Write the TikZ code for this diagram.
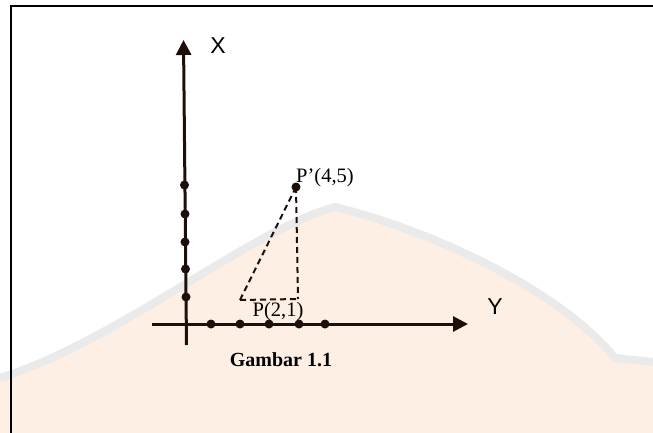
\documentclass[tikz,border=0pt]{standalone}
\usepackage{fontspec}
\setmainfont{Liberation Serif}
\newfontfamily\arialf{Liberation Sans}
\usetikzlibrary{arrows.meta}
\definecolor{peach}{RGB}{253,239,228}
\definecolor{wmgray}{RGB}{234,234,234}
\definecolor{ink}{RGB}{30,15,10}
\begin{document}
\begin{tikzpicture}[x=1pt,y=-1pt,
  axisline/.style={line width=3pt,draw=ink,-{Triangle[length=15pt,width=15pt]}},
  dotnode/.style={circle,fill=ink,inner sep=0pt,minimum size=9pt},
  dashline/.style={line width=2pt,draw=ink,dash pattern=on 6pt off 4pt},
  axislabel/.style={font=\arialf\fontsize{23}{27}\selectfont,inner sep=0pt},
  ptlabel/.style={font=\fontsize{20.5}{24}\selectfont,inner sep=0pt},
  caption/.style={font=\bfseries\fontsize{20}{24}\selectfont,inner sep=0pt}]
\useasboundingbox (0,0) rectangle (653,433);
% faint watermark background
\fill[peach] (0,433) -- (0,378) .. controls (120,340) and (250,230) .. (335,207)
  .. controls (430,230) and (560,290) .. (615,358) -- (653,362) -- (653,433) -- cycle;
\draw[wmgray,line width=8pt] (0,378) .. controls (120,340) and (250,230) .. (335,207)
  .. controls (430,230) and (560,290) .. (615,358) -- (653,362);
% frame
\draw[line width=2pt] (10.5,440) -- (10.5,6) -- (660,6);
% axis coordinates
\coordinate (vb) at (186.5,345);
\coordinate (vt) at (183.5,40);
\coordinate (hl) at (152,324);
\coordinate (hr) at (468,324);
\draw[axisline] (vb) -- (vt);
\draw[axisline] (hl) -- (hr);
% dots on vertical axis
\node[dotnode] (v1) at (186,297) {};
\node[dotnode] (v2) at (185.5,269) {};
\node[dotnode] (v3) at (185,242) {};
\node[dotnode] (v4) at (185,214) {};
\node[dotnode] (v5) at (184.5,185) {};
% dots on horizontal axis
\node[dotnode] (h1) at (211,324) {};
\node[dotnode] (h2) at (240,324) {};
\node[dotnode] (h3) at (269,324) {};
\node[dotnode] (h4) at (299,324) {};
\node[dotnode] (h5) at (325,324) {};
% points
\node[dotnode] (pp) at (296,187) {};
\coordinate (pa) at (240,300);
\coordinate (pc) at (298,299);
\draw[dashline] (pa) -- (pp.center);
\draw[dashline] (pp.center) -- (pc);
\draw[dashline] (pa) -- (pc);
% labels
\node[axislabel] (lx) at (218,46) {X};
\node[axislabel] (ly) at (495,307) {Y};
\node[ptlabel,anchor=west] (lpp) at (296,178) {P’(4,5)};
\node[ptlabel] (lp) at (278,312) {P(2,1)};
\node[caption] (cap) at (281,360) {Gambar 1.1};
\end{tikzpicture}
\end{document}
